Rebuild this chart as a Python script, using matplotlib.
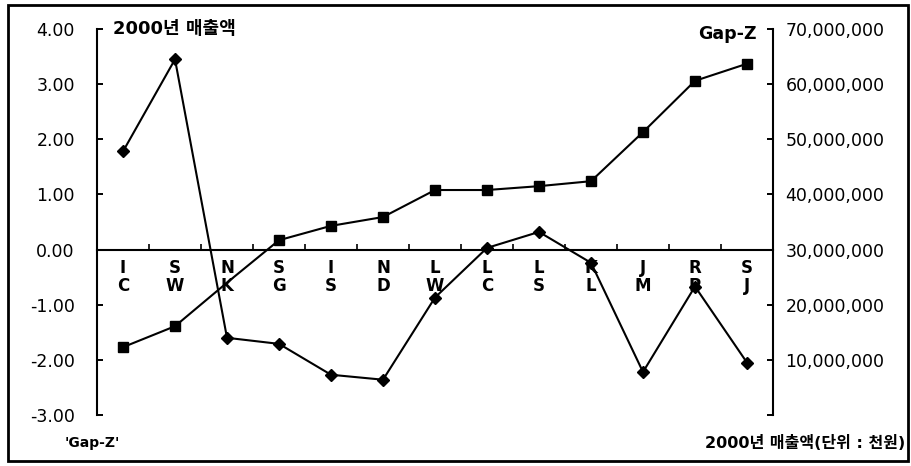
import matplotlib
matplotlib.use("Agg")
import matplotlib.pyplot as plt
from matplotlib.ticker import FuncFormatter, FixedLocator
from matplotlib.patches import Rectangle

plt.rcParams['font.family'] = ['DejaVu Sans', 'Noto Sans CJK KR']

categories = ["I\nC", "S\nW", "N\nK", "S\nG", "I\nS", "N\nD", "L\nW",
              "L\nC", "L\nS", "K\nL", "J\nM", "R\nP", "S\nJ"]
gap_z = [1.78, 3.45, -1.60, -1.71, -2.27, -2.36, -0.87, 0.03, 0.32, -0.24,
         -2.22, -0.67, -2.05]
sales = [12300000, 16100000, 24000000, 31700000, 34300000, 35900000, 40800000,
         40800000, 41500000, 42400000, 51300000, 60600000, 63700000]
left_ticks = [-3, -2, -1, 0, 1, 2, 3, 4]
right_ticks = [0, 10000000, 20000000, 30000000, 40000000, 50000000, 60000000, 70000000]

W, H = 912, 466
fig = plt.figure(figsize=(W / 100, H / 100), dpi=100)
fig.patch.set_facecolor("white")
ax1 = fig.add_axes([97 / W, 51 / H, 676 / W, 386 / H])
ax2 = ax1.twinx()

x = list(range(len(categories)))

# Gap-Z (left axis) with diamonds
ax1.plot(x, gap_z, color="black", lw=1.5, marker="D", markersize=6.5,
         markerfacecolor="black", zorder=3)
# Sales (right axis) with squares
sq_marks = [i for i in x if i != 2]
ax2.plot(x, sales, color="black", lw=1.5, marker="s", markersize=7.5,
         markerfacecolor="black", markevery=sq_marks, zorder=3)

ax1.set_xlim(-0.5, len(categories) - 0.5)
ax1.set_ylim(-3, 4)
ax2.set_ylim(0, 70000000)

for s in ["top", "right"]:
    ax1.spines[s].set_visible(False)
for s in ["top", "bottom", "left"]:
    ax2.spines[s].set_visible(False)
ax1.spines["bottom"].set_position(("data", 0))
for sp in [ax1.spines["left"], ax1.spines["bottom"], ax2.spines["right"]]:
    sp.set_linewidth(1.5)

ax1.yaxis.set_major_locator(FixedLocator(left_ticks))
ax1.yaxis.set_major_formatter(FuncFormatter(lambda v, p: f"{v:.2f}"))
ax1.tick_params(axis="y", direction="in", length=4, width=1.4, pad=16,
                labelsize=12.5)

ax2.yaxis.set_major_locator(FixedLocator(right_ticks))
ax2.yaxis.set_major_formatter(
    FuncFormatter(lambda v, p: f"{int(v):,}" if v > 0 else ""))
ax2.tick_params(axis="y", direction="in", length=4, width=1.4, pad=9,
                labelsize=12.5)

ax1.set_xticks(x)
ax1.set_xticklabels(categories, fontsize=12, fontweight="bold", linespacing=1.0)
ax1.tick_params(axis="x", which="major", length=0, pad=7)
ax1.set_xticks([i + 0.5 for i in x[:-1]], minor=True)
ax1.tick_params(axis="x", which="minor", direction="in", length=4, width=1.2)

fig.text(113 / W, 1 - 29 / H, "2000년 매출액", fontsize=13, fontweight="bold",
         ha="left", va="center")
fig.text(757 / W, 1 - 34 / H, "Gap-Z", fontsize=12.5, fontweight="bold",
         ha="right", va="center")
fig.text(65 / W, 1 - 443 / H, "'Gap-Z'", fontsize=10, fontweight="bold",
         ha="left", va="center")
fig.text(905 / W, 1 - 443 / H, "2000년 매출액(단위 : 천원)", fontsize=11.5,
         fontweight="bold", ha="right", va="center")

fig.add_artist(Rectangle((8 / W, 5 / H), 900 / W, 456 / H, transform=fig.transFigure,
                         fill=False, edgecolor="black", linewidth=2))

fig.savefig("out.png", dpi=100, facecolor="white")
